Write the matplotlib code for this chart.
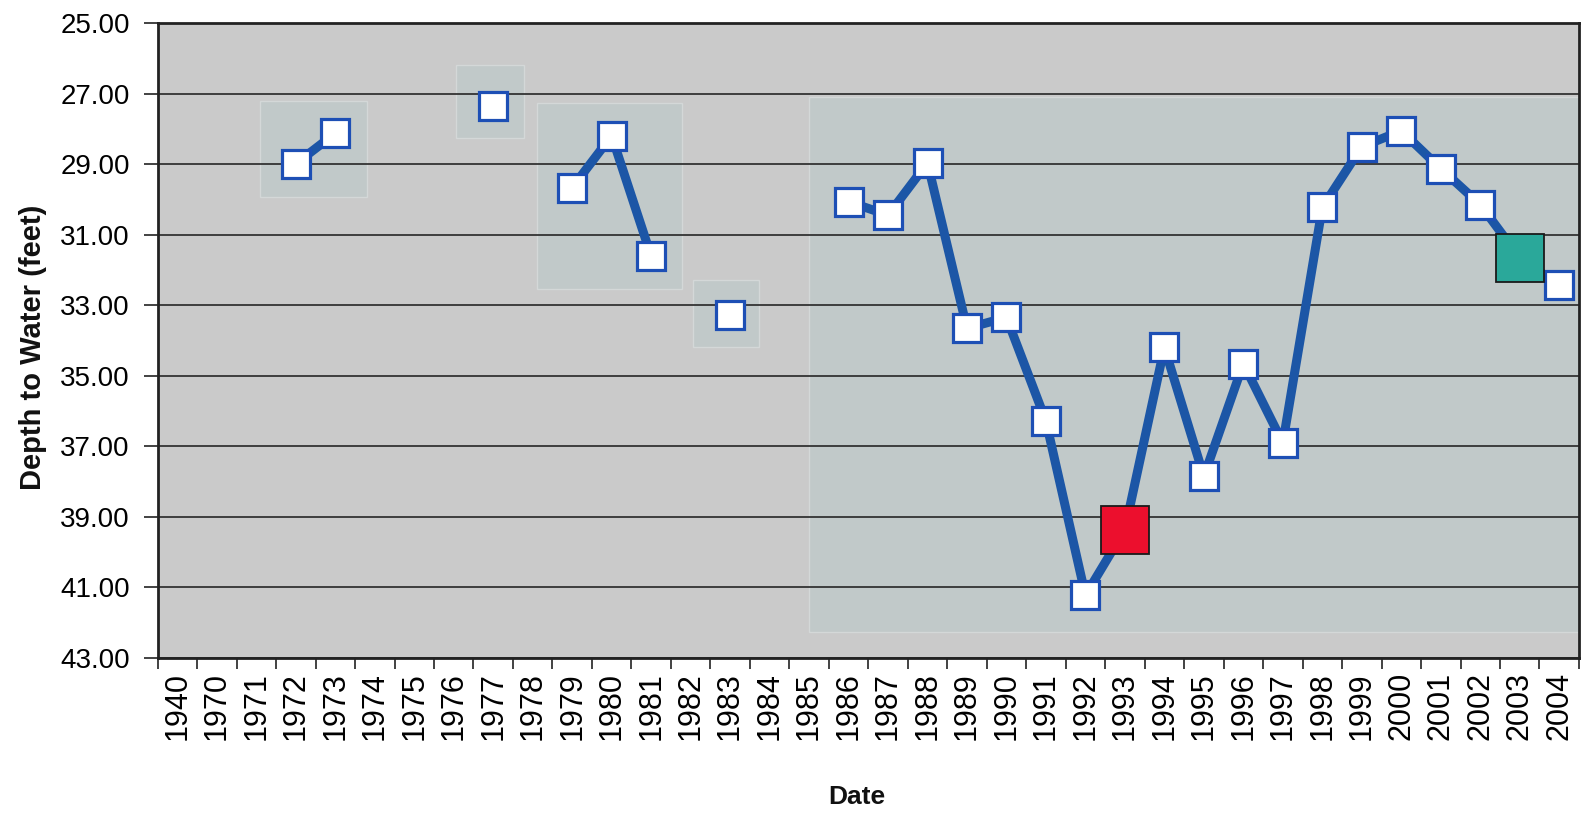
import numpy as np
import matplotlib
matplotlib.use("Agg")
import matplotlib.pyplot as plt
from matplotlib.patches import Rectangle

# ---- data ----
years = ['1940', '1970', '1971', '1972', '1973', '1974', '1975', '1976', '1977',
         '1978', '1979', '1980', '1981', '1982', '1983', '1984', '1985', '1986',
         '1987', '1988', '1989', '1990', '1991', '1992', '1993', '1994', '1995',
         '1996', '1997', '1998', '1999', '2000', '2001', '2002', '2003', '2004']
nan = np.nan
depth = [nan, nan, nan, 28.98, 28.12, nan, nan, nan, 27.35,
         nan, 29.66, 28.19, 31.60, nan, 33.26, nan, nan, 30.06,
         30.44, 28.96, 33.65, 33.34, 36.28, 41.22, 39.36, 34.19, 37.85,
         34.65, 36.90, 30.22, 28.50, 28.05, 29.12, 30.14, 31.65, 32.43]
highlight_years = ['1993', '2003']
highlight_depth = [39.36, 31.65]
highlight_colors = ['#ec0f2d', '#2aa89a']
y_ticks = [25, 27, 29, 31, 33, 35, 37, 39, 41, 43]

plt.rcParams['font.family'] = ['Liberation Sans', 'DejaVu Sans']

fig = plt.figure(figsize=(15.81, 8.17), dpi=100)
ax = fig.add_axes([0.0997, 0.1946, 0.8990, 0.7769])
ax.set_facecolor('#cacaca')

x = np.arange(len(years))
ax.plot(x, depth, color='#1c56a6', lw=6.5, marker='s', ms=19.5,
        mfc='white', mec='#1d4fb5', mew=2.3, zorder=3, solid_joinstyle='round')
hx = [years.index(y) for y in highlight_years]
for xi, yv, c in zip(hx, highlight_depth, highlight_colors):
    ax.plot([xi], [yv], marker='s', ms=34, mfc=c, mec='#1a1a1a', mew=1.3,
            ls='none', zorder=4)

# scanned background shading patches (decoration)
bg_patches = [(16.0, 27.09, 35.5, 42.26),
              (2.09, 27.20, 4.80, 29.93),
              (7.06, 26.18, 8.78, 28.25),
              (9.11, 27.26, 12.78, 32.54),
              (13.06, 32.28, 14.73, 34.18)]
for (x0, y0, x1, y1) in bg_patches:
    ax.add_patch(Rectangle((x0, y0), x1 - x0, y1 - y0, facecolor='#c1c9c9',
                           edgecolor='#d4d8d8', lw=1.0, zorder=0.3))

ax.set_xlim(-0.5, len(years) - 0.5)
ax.set_ylim(43, 25)
ax.set_yticks(y_ticks)
ax.set_yticklabels([f'{v:.2f}' for v in y_ticks])
ax.set_axisbelow(True)
ax.yaxis.grid(True, color='#333333', lw=1.3, zorder=0.5)
ax.xaxis.grid(False)

ax.set_xticks(np.arange(len(years) + 1) - 0.5)
ax.set_xticklabels([])
ax.set_xticks(x, minor=True)
ax.set_xticklabels(years, minor=True, rotation=90, fontsize=22)
ax.tick_params(axis='x', which='major', direction='out', length=8, width=1.2, color='#222222')
ax.tick_params(axis='x', which='minor', length=0, pad=10)
ax.tick_params(axis='y', direction='out', length=10, width=1.2, color='#222222',
               labelsize=20, pad=10)

for s in ax.spines.values():
    s.set_color('#222222')
    s.set_linewidth(2.0)

fig.text(33 / 1581, 1 - 347 / 817, 'Depth to Water (feet)', rotation=90,
         ha='center', va='center', fontsize=21, fontweight='bold', color='#111111')
fig.text(857 / 1581, 1 - 797 / 817, 'Date', ha='center', va='center',
         fontsize=19, fontweight='bold', color='#111111')

fig.savefig('out.png', dpi=100, facecolor='white')
